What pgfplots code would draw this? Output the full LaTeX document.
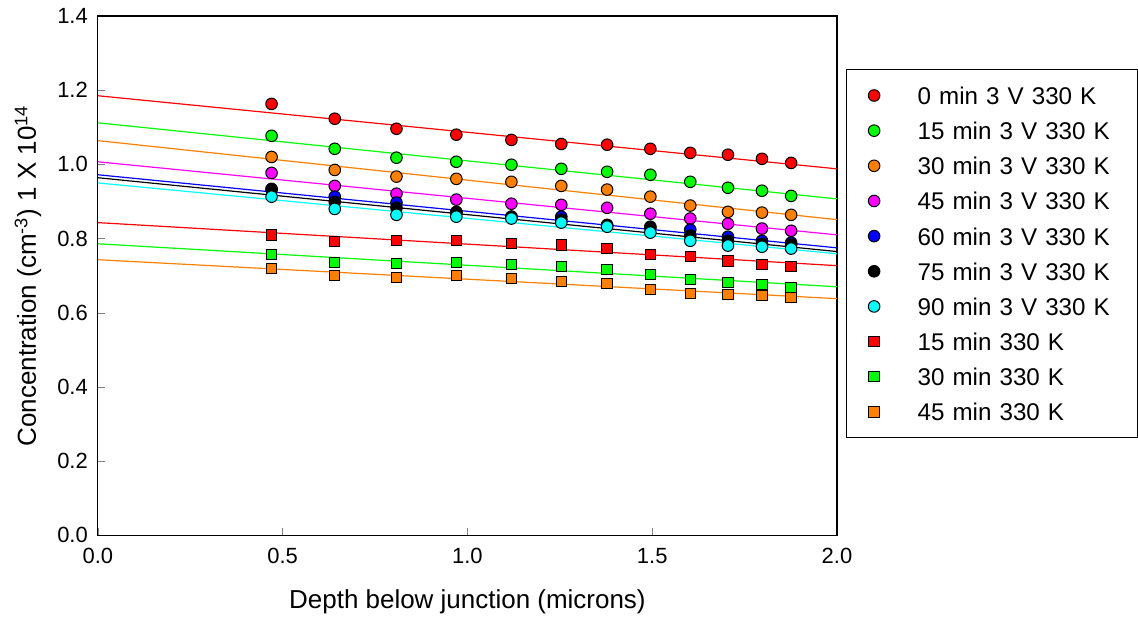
\documentclass[border=0pt]{standalone}
\usepackage{fontspec}
\setmainfont{Liberation Sans}
\usepackage{pgfplots}
\usepackage{pgfplotstable}
\pgfplotsset{compat=1.18}
\definecolor{cRed}{RGB}{255,0,0}
\definecolor{cGreen}{RGB}{0,255,0}
\definecolor{cOrange}{RGB}{255,128,0}
\definecolor{cMag}{RGB}{255,0,255}
\definecolor{cBlue}{RGB}{0,0,255}
\definecolor{cCyan}{RGB}{0,255,255}

\pgfplotstableread{
x     a     b     c     d     e     f     g     h     i     j
0.470 1.163 1.077 1.020 0.977 0.932 0.934 0.913 0.810 0.757 0.719
0.641 1.123 1.042 0.985 0.942 0.913 0.899 0.880 0.792 0.735 0.700
0.808 1.096 1.018 0.967 0.921 0.897 0.883 0.864 0.794 0.732 0.695
0.970 1.080 1.007 0.961 0.905 0.872 0.870 0.859 0.794 0.735 0.700
1.119 1.066 0.999 0.953 0.894 0.859 0.859 0.854 0.786 0.730 0.692
1.254 1.055 0.988 0.942 0.891 0.859 0.851 0.843 0.783 0.724 0.684
1.378 1.053 0.980 0.932 0.883 0.837 0.835 0.832 0.773 0.716 0.679
1.495 1.042 0.972 0.913 0.867 0.832 0.829 0.816 0.757 0.703 0.662
1.603 1.031 0.953 0.889 0.854 0.824 0.808 0.794 0.751 0.689 0.652
1.705 1.026 0.937 0.872 0.840 0.805 0.794 0.781 0.740 0.681 0.649
1.797 1.015 0.929 0.870 0.827 0.794 0.786 0.778 0.730 0.676 0.646
1.876 1.004 0.915 0.864 0.821 0.789 0.784 0.773 0.724 0.668 0.641
}\data

\pgfplotstableread{
x a     b     c     d     e     f     g     h     i     j
0 1.185 1.112 1.064 1.007 0.972 0.964 0.950 0.843 0.786 0.743
2 0.988 0.907 0.851 0.810 0.775 0.765 0.759 0.727 0.670 0.638
}\fits

\begin{document}
\begin{tikzpicture}
\begin{axis}[
  scale only axis,
  width=370pt, height=260pt,
  xmin=0, xmax=2, ymin=0, ymax=1.4,
  xtick={0,0.5,...,2.0}, ytick={0,0.2,...,1.4},
  xticklabel style={/pgf/number format/.cd,fixed,fixed zerofill,precision=1, /tikz/yshift=-3pt},
  yticklabel style={/pgf/number format/.cd,fixed,fixed zerofill,precision=1, /tikz/xshift=-1.5pt},
  /pgf/number format/assume math mode=true,
  tick label style={font=\fontsize{11}{13}\selectfont},
  label style={font=\fontsize{13}{15}\selectfont},
  xtick pos=left, ytick pos=left, tick align=inside,
  major tick length=3.5pt,
  axis line style={line width=0.6pt},
  xlabel={Depth below junction (microns)},
  ylabel={Concentration (cm\textsuperscript{-3}) 1 X 10\textsuperscript{14}},
  xlabel style={at={(axis description cs:0.5,-0.1288)}, anchor=center},
  ylabel style={at={(axis description cs:-0.0946,0.5)}, anchor=center},
  legend style={at={(rel axis cs:1,1)}, anchor=north west, xshift=4.5pt, yshift=-26.5pt,
    draw=black, line width=0.6pt, inner xsep=8.5pt, inner ysep=8.5pt, row sep=8.6pt,
    font=\fontsize{12.1}{14}\selectfont,
    nodes={inner xsep=0pt, inner ysep=0pt, text height=9pt, text depth=0pt, text width=101.5pt, align=left}},
  legend cell align=left,
  legend image code/.code={\path (-5pt,0) (21.5pt,0); \draw plot coordinates {(0pt,0pt)};},
  every axis plot/.append style={line width=0.6pt},
]
\addplot[cRed, forget plot] table[x=x,y=a]{\fits};
\addplot[cGreen, forget plot] table[x=x,y=b]{\fits};
\addplot[cOrange, forget plot] table[x=x,y=c]{\fits};
\addplot[cMag, forget plot] table[x=x,y=d]{\fits};
\addplot[cBlue, forget plot] table[x=x,y=e]{\fits};
\addplot[black, forget plot] table[x=x,y=f]{\fits};
\addplot[cCyan, forget plot] table[x=x,y=g]{\fits};
\addplot[cRed, forget plot] table[x=x,y=h]{\fits};
\addplot[cGreen, forget plot] table[x=x,y=i]{\fits};
\addplot[cOrange, forget plot] table[x=x,y=j]{\fits};

\addplot[only marks, mark=*, mark size=2.9pt, mark options={draw=black, fill=cRed, line width=0.5pt}] table[x=x,y=a]{\data};
\addplot[only marks, mark=*, mark size=2.9pt, mark options={draw=black, fill=cGreen, line width=0.5pt}] table[x=x,y=b]{\data};
\addplot[only marks, mark=*, mark size=2.9pt, mark options={draw=black, fill=cOrange, line width=0.5pt}] table[x=x,y=c]{\data};
\addplot[only marks, mark=*, mark size=2.9pt, mark options={draw=black, fill=cMag, line width=0.5pt}] table[x=x,y=d]{\data};
\addplot[only marks, mark=*, mark size=2.9pt, mark options={draw=black, fill=cBlue, line width=0.5pt}] table[x=x,y=e]{\data};
\addplot[only marks, mark=*, mark size=2.9pt, mark options={draw=black, fill=black, line width=0.5pt}] table[x=x,y=f]{\data};
\addplot[only marks, mark=*, mark size=2.9pt, mark options={draw=black, fill=cCyan, line width=0.5pt}] table[x=x,y=g]{\data};
\addplot[only marks, mark=square*, mark size=2.6pt, mark options={draw=black, fill=cRed, line width=0.5pt}] table[x=x,y=h]{\data};
\addplot[only marks, mark=square*, mark size=2.6pt, mark options={draw=black, fill=cGreen, line width=0.5pt}] table[x=x,y=i]{\data};
\addplot[only marks, mark=square*, mark size=2.6pt, mark options={draw=black, fill=cOrange, line width=0.5pt}] table[x=x,y=j]{\data};
\legend{0 min 3 V 330 K, 15 min 3 V 330 K, 30 min 3 V 330 K, 45 min 3 V 330 K, 60 min 3 V 330 K, 75 min 3 V 330 K, 90 min 3 V 330 K, 15 min 330 K, 30 min 330 K, 45 min 330 K}
\coordinate (bl) at (rel axis cs:0,0);
\coordinate (tr) at (rel axis cs:1,1);
\end{axis}
\path (tr) ++(150pt,8pt) coordinate (TR);
\path (bl) ++(-49pt,-40.5pt) rectangle (TR);
\end{tikzpicture}
\end{document}
